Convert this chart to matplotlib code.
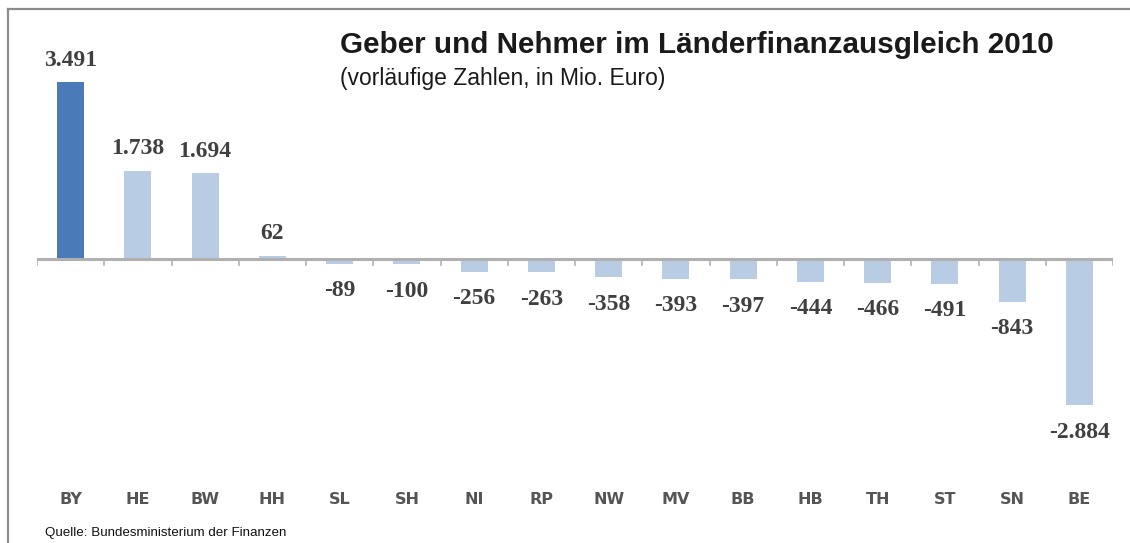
import matplotlib.pyplot as plt
import numpy as np

laender = ["BY", "HE", "BW", "HH", "SL", "SH", "NI", "RP", "NW", "MV", "BB", "HB", "TH", "ST", "SN", "BE"]
werte = [3491, 1738, 1694, 62, -89, -100, -256, -263, -358, -393, -397, -444, -466, -491, -843, -2884]
beschriftung = ["3.491", "1.738", "1.694", "62", "-89", "-100", "-256", "-263", "-358", "-393",
                "-397", "-444", "-466", "-491", "-843", "-2.884"]

W, H = 1130, 543
fig = plt.figure(figsize=(W / 100, H / 100), dpi=100)

# Rahmen (oben und links sichtbar)
fig.add_artist(plt.Line2D([8 / W, 1], [1 - 9 / H, 1 - 9 / H], color="#8c8c8c", lw=1.6))
fig.add_artist(plt.Line2D([8 / W, 8 / W], [0, 1 - 9 / H], color="#8c8c8c", lw=1.6))

# Achse: x von 37 bis 1113 px, y von 60 bis 440 px
ax = fig.add_axes([37 / W, 1 - 440 / H, 1076 / W, 380 / H])
px = 3491 / 177.0
ax.set_ylim(-181 * px, 199 * px)
ax.set_xlim(-0.5, len(laender) - 0.5)

x = np.arange(len(laender))
farben = ["#4a7ab8"] + ["#b8cce4"] * (len(laender) - 1)
ax.bar(x, werte, width=0.4, color=farben, zorder=2)

ax.axhline(0, color="#b0b0b0", lw=2.2, zorder=3)
for t in np.arange(-0.5, len(laender), 1):
    ax.plot([t, t], [0, -6 * px], color="#b0b0b0", lw=1.2, zorder=3)

for xi, v, s in zip(x, werte, beschriftung):
    if v >= 0:
        ax.text(xi, v + 22 * px, s, ha="center", va="center", family="Liberation Serif",
                fontsize=17, fontweight="bold", color="#404040")
    else:
        ax.text(xi, v - 27 * px, s, ha="center", va="center", family="Liberation Serif",
                fontsize=17, fontweight="bold", color="#404040")

for xi, name in zip(x, laender):
    ax.text(xi, -241 * px, name, ha="center", va="center", family="DejaVu Sans",
            fontsize=11.5, fontweight="bold", color="#555555")

ax.axis("off")

fig.text(340 / W, 1 - 45 / H, "Geber und Nehmer im Länderfinanzausgleich 2010", ha="left", va="center",
         family="Liberation Sans", fontsize=21.3, fontweight="bold", color="#1a1a1a")
fig.text(340 / W, 1 - 79 / H, "(vorläufige Zahlen, in Mio. Euro)", ha="left", va="center",
         family="Liberation Sans", fontsize=16.5, color="#1a1a1a")
fig.text(45 / W, 1 - 533 / H, "Quelle: Bundesministerium der Finanzen", ha="left", va="center",
         family="Liberation Sans", fontsize=9.6, color="#111111")

fig.savefig("out.png", dpi=100)
